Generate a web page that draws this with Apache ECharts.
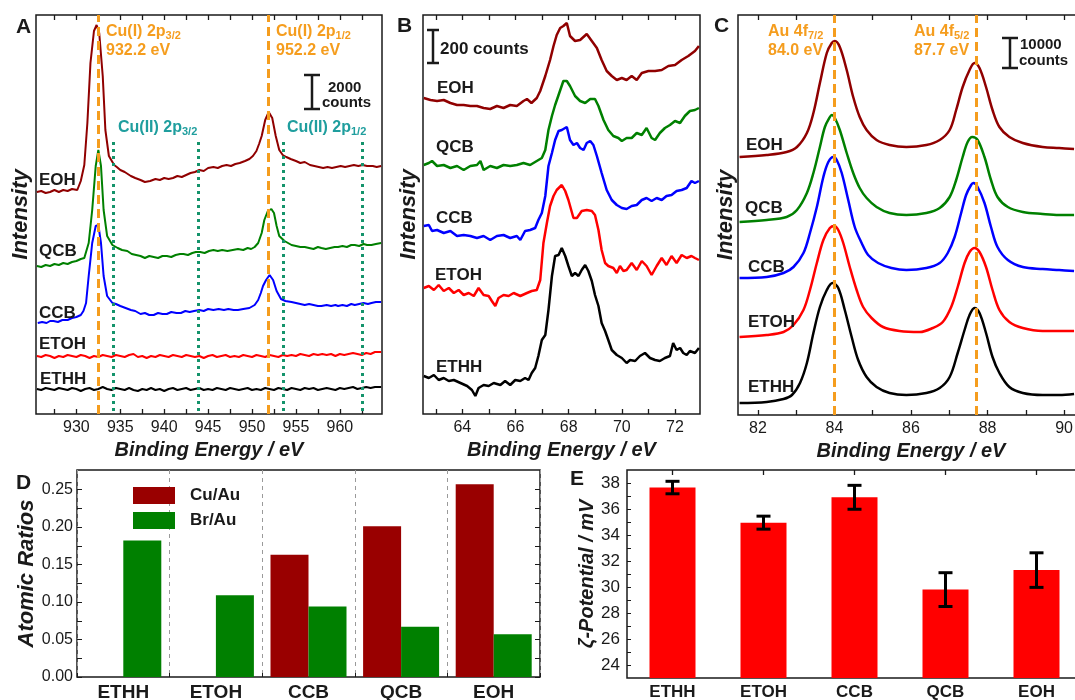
<!DOCTYPE html>
<html>
<head>
<meta charset="utf-8">
<title>XPS spectra, atomic ratios and zeta potential</title>
<script src="https://cdn.jsdelivr.net/npm/echarts@6/dist/echarts.min.js"></script>
<style>
html, body { margin: 0; padding: 0; background: #fff; }
#main { width: 1075px; height: 700px; }
</style>
</head>
<body>
<div id="main"></div>
<script>
// ---- samples / bar data (panels D, E) ----
const samples = ['ETHH', 'ETOH', 'CCB', 'QCB', 'EOH'];
const cuAu = [0, 0, 0.163, 0.201, 0.257];
const brAu = [0.182, 0.109, 0.094, 0.067, 0.057];
const zeta = [37.65, 34.95, 36.9, 29.8, 31.3];
const zetaErr = [0.48, 0.5, 0.92, 1.3, 1.33];

// tick labels
const cuLabels = [930, 935, 940, 945, 950, 955, 960];
const cuTicks = [927.5, 930, 932.5, 935, 937.5, 940, 942.5, 945, 947.5, 950, 952.5, 955, 957.5, 960, 962.5];
const brLabels = [64, 66, 68, 70, 72];
const brTicks = [63, 64, 65, 66, 67, 68, 69, 70, 71, 72];
const auLabels = [82, 84, 86, 88, 90];
const auTicks = [82, 83, 84, 85, 86, 87, 88, 89, 90];
const dLabels = [0, 0.05, 0.10, 0.15, 0.20, 0.25];
const dTicks = [0, 0.025, 0.05, 0.075, 0.10, 0.125, 0.15, 0.175, 0.20, 0.225, 0.25];
const eLabels = [24, 26, 28, 30, 32, 34, 36, 38];
const eTicks = [24, 25, 26, 27, 28, 29, 30, 31, 32, 33, 34, 35, 36, 37, 38];

// reference lines (eV)
const cuIPeaks = [932.5, 951.9];
const cuIIRanges = [934.2, 943.9, 953.5, 962.6];
const auPeaks = [84.0, 87.7];

// ---- A: Cu 2p spectra, intensity in a.u. (stacked) ----
const cuEOH = [[925.5,222],[926,223],[926.5,221],[927,222],[927.5,224],[928,222],[928.5,224],[929,223],[929.5,225],[930.1,224],[930.5,233],[930.9,249],[931.25,291],[931.6,351],[932.0,383],[932.3,389],[932.6,381],[933.0,338],[933.3,284],[933.7,258],[934.3,249],[934.6,247],[935.0,244],[935.5,242],[936.2,238],[936.7,236],[937.3,234],[937.8,232],[938.4,233],[939.0,235],[939.5,234],[940.0,236],[940.5,235],[941.0,236],[941.5,238],[942.0,237],[942.5,239],[943.0,241],[943.5,242],[944.0,244],[944.5,243],[945.0,246],[945.6,247],[946.1,246],[946.6,248],[947.1,249],[947.6,248],[948.1,250],[948.6,251],[949.2,253],[949.7,255],[950.1,258],[950.5,263],[950.8,270],[951.1,278],[951.5,294],[951.9,302],[952.3,296],[952.7,278],[953.1,264],[953.5,259],[953.9,257],[954.4,255],[955.0,253],[955.5,251],[956.0,252],[956.6,249],[957.1,248],[957.6,247],[958.1,246],[958.6,247],[959.1,246],[959.6,247],[960.1,248],[960.6,247],[961.1,248],[961.6,249],[962.1,248],[962.6,249],[963.1,248],[963.75,248],[964.2,247],[964.7,248]];
const cuQCB = [[925.5,148],[926,147],[926.5,149],[927,148],[927.5,150],[928,149],[928.5,151],[929,150],[929.5,152],[930,153],[930.5,155],[930.9,156],[931.4,171],[931.8,204],[932.2,248],[932.5,264],[932.8,248],[933.1,204],[933.5,178],[934.1,169],[934.7,166],[935.2,164],[935.8,163],[936.3,160],[936.8,159],[937.3,158],[937.8,156],[938.3,158],[938.8,157],[939.3,156],[939.8,158],[940.3,158],[940.8,157],[941.3,159],[941.8,160],[942.2,160],[942.7,159],[943.2,161],[943.6,162],[944.1,162],[944.6,161],[945.1,163],[945.6,164],[946.1,163],[946.6,164],[947.2,163],[947.8,164],[948.4,165],[949.0,164],[949.5,166],[949.9,165],[950.3,167],[950.7,171],[951.1,181],[951.4,194],[951.8,203],[952.2,205],[952.5,201],[952.8,188],[953.1,178],[953.7,173],[954.1,171],[954.5,169],[955.0,168],[955.5,167],[956.0,167],[956.5,166],[957.0,165],[957.5,167],[957.9,166],[958.4,165],[958.9,166],[959.4,167],[959.8,167],[960.3,168],[960.8,167],[961.3,169],[961.7,169],[962.2,168],[962.7,170],[963.1,169],[963.6,169],[964.1,170],[964.7,171]];
const cuCCB = [[925.6,91],[926.1,92],[926.6,91],[927.0,93],[927.4,93],[927.9,92],[928.4,94],[929.0,94],[929.5,96],[930.0,97],[930.5,99],[930.8,103],[931.1,111],[931.4,138],[931.8,171],[932.2,188],[932.5,189],[932.8,171],[933.1,138],[933.5,118],[934.1,111],[934.5,110],[935.0,108],[935.6,106],[936.2,104],[936.7,103],[937.3,100],[937.8,101],[938.3,99],[938.8,99],[939.3,101],[939.8,100],[940.3,100],[940.8,102],[941.4,101],[941.9,101],[942.4,103],[942.9,102],[943.4,103],[944.0,104],[944.5,103],[945.0,105],[945.6,104],[946.2,105],[946.8,104],[947.3,105],[947.9,104],[948.4,104],[949.0,105],[949.7,106],[950.3,109],[950.7,114],[951.0,121],[951.25,128],[951.6,134],[952.0,139],[952.4,134],[952.8,123],[953.3,115],[953.8,113],[954.5,112],[955.0,111],[955.5,110],[956.0,109],[956.5,110],[957.0,109],[957.5,108],[957.9,108],[958.5,109],[959.0,108],[959.5,109],[959.8,108],[960.3,109],[960.8,108],[961.3,110],[961.7,109],[962.2,110],[962.7,111],[963.2,110],[963.6,111],[964.1,112],[964.7,112]];
const cuETOH = [[925.5,58],[926,57],[926.5,59],[927,58],[927.5,56],[928,58],[928.5,57],[929,59],[929.5,58],[930,57],[930.5,59],[931,58],[931.5,56],[932,58],[932.5,57],[933,59],[933.5,58],[934,57],[934.5,59],[935,58],[935.5,57],[936,59],[936.5,60],[937,57],[937.5,58],[938,56],[938.5,58],[939,57],[939.5,59],[940,58],[940.5,57],[941,59],[941.5,58],[942,57],[942.5,59],[943,58],[943.5,57],[944,58],[944.5,56],[945,58],[945.5,59],[946,57],[946.5,58],[947,59],[947.5,57],[948,58],[948.5,57],[949,59],[949.5,58],[950,57],[950.5,59],[951,58],[951.5,57],[952,59],[952.5,58],[953,57],[953.5,59],[954,58],[954.5,59],[955,58],[955.5,60],[956,59],[956.5,58],[957,60],[957.5,59],[958,60],[958.5,59],[959,60],[959.5,58],[960,60],[960.5,59],[961,60],[961.5,61],[962,60],[962.5,59],[963,61],[963.5,60],[964,62],[964.7,62]];
const cuETHH = [[925.5,25],[926,24],[926.5,26],[927,25],[927.5,24],[928,26],[928.5,25],[929,24],[929.5,26],[930,25],[930.5,23],[931,25],[931.5,26],[932,24],[932.5,25],[933,27],[933.5,25],[934,24],[934.5,26],[935,25],[935.5,24],[936,26],[936.5,24],[937,23],[937.5,25],[938,24],[938.5,26],[939,24],[939.5,25],[940,23],[940.5,25],[941,26],[941.5,24],[942,25],[942.5,26],[943,24],[943.5,25],[944,26],[944.5,24],[945,25],[945.5,24],[946,26],[946.5,25],[947,24],[947.5,26],[948,25],[948.5,24],[949,25],[949.5,26],[950,24],[950.5,25],[951,24],[951.5,26],[952,25],[952.5,24],[953,26],[953.5,25],[954,24],[954.5,26],[955,25],[955.5,24],[956,26],[956.5,25],[957,26],[957.5,24],[958,25],[958.5,26],[959,25],[959.5,24],[960,26],[960.5,25],[961,26],[961.5,27],[962,25],[962.5,26],[963,27],[963.5,26],[964,27],[964.7,27]];

// ---- B: Br 3d spectra ----
const brEOH = [[62.55,316],[62.8,314],[63.05,313],[63.3,314],[63.55,311],[63.8,309],[64.05,309],[64.3,308],[64.55,308],[64.8,306],[65.05,305],[65.3,308],[65.55,306],[65.8,309],[66.05,308],[66.3,313],[66.43,315],[66.6,311],[66.8,316],[66.93,323],[67.12,338],[67.3,354],[67.43,368],[67.55,379],[67.68,386],[67.8,388],[67.93,391],[68.05,378],[68.24,373],[68.43,374],[68.68,380],[68.87,373],[69.06,366],[69.24,354],[69.43,343],[69.62,338],[69.81,334],[70.0,336],[70.18,334],[70.37,338],[70.56,334],[70.75,341],[71.0,343],[71.25,343],[71.5,344],[71.75,348],[72.0,349],[72.25,354],[72.5,358],[72.75,363],[72.9,368]];
const brQCB = [[62.55,249],[62.74,251],[62.86,253],[63.05,248],[63.3,249],[63.55,246],[63.8,248],[64.05,244],[64.3,248],[64.55,249],[64.68,253],[64.8,244],[65.05,248],[65.3,246],[65.55,249],[65.8,248],[66.05,249],[66.3,251],[66.55,249],[66.8,253],[66.99,256],[67.12,264],[67.24,284],[67.37,298],[67.49,309],[67.62,319],[67.8,333],[67.93,333],[68.05,328],[68.24,318],[68.43,313],[68.62,311],[68.81,315],[68.99,315],[69.12,308],[69.31,294],[69.49,284],[69.68,278],[69.87,276],[70.0,273],[70.18,276],[70.37,276],[70.56,281],[70.75,279],[70.93,286],[71.12,276],[71.25,274],[71.43,281],[71.62,286],[71.81,289],[72.0,293],[72.19,291],[72.37,298],[72.56,303],[72.75,304],[72.9,306]];
const brCCB = [[62.55,188],[62.74,189],[62.86,183],[63.05,184],[63.3,181],[63.55,183],[63.8,178],[64.05,179],[64.3,178],[64.55,176],[64.8,178],[65.05,174],[65.3,178],[65.55,179],[65.8,176],[66.05,178],[66.18,174],[66.36,183],[66.55,184],[66.74,186],[66.86,194],[66.99,201],[67.12,218],[67.24,248],[67.37,261],[67.49,274],[67.62,283],[67.74,284],[67.93,287],[68.05,274],[68.18,269],[68.31,271],[68.43,266],[68.56,264],[68.68,271],[68.81,273],[68.93,269],[69.06,258],[69.24,241],[69.43,224],[69.62,214],[69.81,209],[70.0,206],[70.18,205],[70.37,208],[70.56,209],[70.75,214],[70.93,216],[71.12,213],[71.31,216],[71.5,214],[71.68,218],[71.87,219],[72.06,223],[72.25,224],[72.44,226],[72.62,233],[72.75,231],[72.9,233]];
const brETOH = [[62.55,126],[62.74,128],[62.93,124],[63.11,129],[63.3,123],[63.49,126],[63.68,121],[63.86,124],[64.05,119],[64.24,121],[64.43,118],[64.61,126],[64.8,119],[64.99,118],[65.11,113],[65.24,108],[65.36,116],[65.55,119],[65.74,118],[65.93,121],[66.18,118],[66.43,121],[66.61,123],[66.8,124],[66.93,134],[67.05,171],[67.18,191],[67.3,208],[67.43,218],[67.55,224],[67.74,229],[67.87,223],[67.99,214],[68.05,213],[68.18,196],[68.31,196],[68.49,203],[68.68,204],[68.87,203],[68.99,199],[69.12,184],[69.24,164],[69.37,151],[69.49,148],[69.68,146],[69.81,141],[69.93,148],[70.06,143],[70.18,144],[70.37,151],[70.56,144],[70.75,153],[70.93,148],[71.12,139],[71.31,148],[71.5,156],[71.68,149],[71.87,158],[72.06,151],[72.25,159],[72.44,156],[72.62,158],[72.75,156],[72.9,154]];
const brETHH = [[62.55,38],[62.74,36],[62.93,39],[63.11,34],[63.3,36],[63.49,33],[63.68,34],[63.93,31],[64.18,28],[64.36,24],[64.49,18],[64.61,26],[64.8,29],[64.99,28],[65.18,31],[65.43,29],[65.61,33],[65.8,29],[65.99,34],[66.18,33],[66.36,36],[66.49,34],[66.61,41],[66.74,46],[66.86,58],[66.99,74],[67.12,79],[67.24,104],[67.37,138],[67.49,158],[67.62,159],[67.74,166],[67.87,158],[67.99,148],[68.12,138],[68.24,141],[68.37,138],[68.49,144],[68.62,149],[68.74,143],[68.87,133],[68.99,119],[69.12,108],[69.24,91],[69.37,83],[69.49,74],[69.62,64],[69.81,59],[70.0,56],[70.18,51],[70.31,54],[70.5,53],[70.68,58],[70.87,61],[71.06,56],[71.25,54],[71.43,53],[71.62,56],[71.81,58],[71.93,71],[72.06,64],[72.19,66],[72.31,61],[72.44,59],[72.56,63],[72.75,61],[72.9,66]];

// ---- C: Au 4f spectra ----
const auEOH = [[81.52,258],[82.23,260],[82.75,263],[83.02,268],[83.28,282],[83.45,302],[83.62,332],[83.8,362],[83.93,372],[84.01,374],[84.14,368],[84.32,345],[84.49,318],[84.66,298],[84.84,285],[85.1,275],[85.44,270],[85.88,268],[86.4,270],[86.75,275],[87.01,285],[87.18,305],[87.35,328],[87.53,345],[87.66,352],[87.79,347],[87.96,328],[88.13,305],[88.31,288],[88.57,278],[88.92,272],[89.44,268],[89.87,267],[90.26,266]];
const auQCB = [[81.52,193],[82.23,195],[82.75,198],[83.02,205],[83.28,222],[83.45,242],[83.62,268],[83.75,288],[83.88,298],[83.93,300],[84.01,297],[84.14,285],[84.32,262],[84.49,242],[84.66,227],[84.84,217],[85.1,208],[85.44,202],[85.88,200],[86.4,202],[86.75,207],[87.01,218],[87.18,235],[87.35,258],[87.48,273],[87.6,278],[87.74,275],[87.92,258],[88.09,235],[88.26,218],[88.53,208],[88.92,203],[89.44,201],[89.87,200],[90.26,200]];
const auCCB = [[81.52,137],[82.23,138],[82.67,142],[82.93,148],[83.19,162],[83.36,182],[83.54,208],[83.71,238],[83.84,253],[83.97,258],[84.06,255],[84.19,242],[84.36,215],[84.53,188],[84.71,172],[84.88,160],[85.14,152],[85.49,147],[85.88,145],[86.4,147],[86.75,152],[86.96,162],[87.14,178],[87.31,202],[87.44,220],[87.57,230],[87.63,232],[87.74,228],[87.92,212],[88.09,188],[88.26,168],[88.53,155],[88.92,148],[89.44,146],[89.87,145],[90.26,144]];
const auETOH = [[81.52,78],[82.23,80],[82.67,83],[82.93,90],[83.19,105],[83.36,125],[83.54,152],[83.71,175],[83.88,187],[84.0,189],[84.1,185],[84.23,172],[84.4,148],[84.58,125],[84.75,108],[84.97,97],[85.27,88],[85.7,84],[86.23,83],[86.57,87],[86.83,93],[87.05,108],[87.22,128],[87.4,152],[87.53,163],[87.66,167],[87.79,163],[87.96,148],[88.13,125],[88.31,105],[88.57,93],[88.92,87],[89.44,84],[89.87,84],[90.26,84]];
const auETHH = [[81.52,12],[82.23,13],[82.67,16],[82.89,20],[83.1,32],[83.28,52],[83.45,82],[83.62,108],[83.8,125],[83.95,132],[84.1,127],[84.27,105],[84.45,78],[84.62,55],[84.84,38],[85.1,28],[85.44,22],[85.88,20],[86.4,22],[86.75,27],[87.01,38],[87.22,62],[87.4,85],[87.53,100],[87.66,107],[87.79,102],[87.96,82],[88.13,58],[88.31,42],[88.57,28],[88.92,22],[89.44,20],[89.87,20],[90.26,21]];

const FONT = 'Arial, "Liberation Sans", Helvetica, sans-serif';
const INK = '#1a1a1a';
const ORANGE = '#f59d1e';
const TEAL = '#1f9e9e';
const DOTGREEN = '#14936b';
const colors = { EOH: '#900000', QCB: '#008000', CCB: '#0000ff', ETOH: '#ff0000', ETHH: '#000000' };

let chart = echarts.init(document.getElementById('main'), null, { renderer: 'canvas' });

const nameStyle = (size) => ({ fontSize: size, fontWeight: 'bold', fontStyle: 'italic', color: INK, fontFamily: FONT });

function specX(grid, min, max, labels, ticks, pos) {
    let bottom = pos === 'bottom';
    return {
        type: 'value', gridIndex: grid, position: pos, min: min, max: max,
        axisLine: { show: false },
        axisTick: { show: true, inside: true, length: 5, customValues: ticks, lineStyle: { color: INK, width: 1.3 } },
        axisLabel: { show: bottom, customValues: labels, margin: 6, fontSize: 16, color: INK, fontFamily: FONT },
        splitLine: { show: false },
        name: bottom ? 'Binding Energy / eV' : '',
        nameLocation: 'middle', nameGap: 21,
        nameTextStyle: nameStyle(20)
    };
}
function specY(grid, max, gap) {
    return {
        type: 'value', gridIndex: grid, min: 0, max: max,
        axisLine: { show: false }, axisTick: { show: false }, axisLabel: { show: false }, splitLine: { show: false },
        name: 'Intensity', nameLocation: 'middle', nameGap: gap, nameTextStyle: nameStyle(22)
    };
}
function spec(data, color, xi, yi, width, smooth) {
    return {
        type: 'line', data: data, xAxisIndex: xi, yAxisIndex: yi,
        showSymbol: false, symbol: 'none', smooth: smooth, silent: true, z: 3,
        lineStyle: { color: color, width: width }, itemStyle: { color: color }
    };
}

// text helpers for the annotations
function txt(x, y, text, font, fill) {
    return { type: 'text', x: x, y: y, silent: true, z: 10,
        style: { text: text, font: font, fill: fill || INK, align: 'left', verticalAlign: 'middle' } };
}
function subTxt(x, y, main, sub, fill) {
    return { type: 'text', x: x, y: y, silent: true, z: 10,
        style: { text: '{m|' + main + '}{s|' + sub + '}', align: 'left', verticalAlign: 'middle',
            rich: { m: { font: 'bold 16px ' + FONT, fill: fill }, s: { font: 'bold 11px ' + FONT, fill: fill, padding: [8, 0, 0, 0] } } } };
}
function scaleBar(x, y1, y2, hw) {
    let st = { stroke: INK, lineWidth: 2.5 };
    return { type: 'group', silent: true, children: [
        { type: 'line', shape: { x1: x, y1: y1, x2: x, y2: y2 }, style: st },
        { type: 'line', shape: { x1: x - hw, y1: y1, x2: x + hw, y2: y1 }, style: st },
        { type: 'line', shape: { x1: x - hw, y1: y2, x2: x + hw, y2: y2 }, style: st }
    ] };
}

const gridBase = { show: true, borderColor: INK, borderWidth: 1.5, backgroundColor: 'transparent', containLabel: false, outerBoundsMode: 'none' };
const B16 = 'bold 16px ' + FONT, B17 = 'bold 17px ' + FONT, B15 = 'bold 15px ' + FONT, B20 = 'bold 21px ' + FONT;

let option = {
    animation: false,
    backgroundColor: '#fff',
    textStyle: { fontFamily: FONT },
    grid: [
        { left: 36, top: 15, width: 346, height: 399 },
        { left: 423, top: 15, width: 277, height: 399 },
        { left: 738, top: 15, width: 346, height: 400 },
        { left: 77, top: 470, width: 463, height: 207 },
        { left: 627, top: 470, width: 455, height: 208 }
    ].map(g => Object.assign({}, gridBase, g)),
    legend: {
        data: ['Cu/Au', 'Br/Au'], orient: 'vertical', left: 128, top: 482,
        itemWidth: 42, itemHeight: 17, itemGap: 8, icon: 'rect', selectedMode: false,
        textStyle: { fontSize: 17, fontWeight: 'bold', color: INK, fontFamily: FONT, padding: [0, 0, 0, 10] }
    },
    xAxis: [
        specX(0, 925.4, 964.8, cuLabels, cuTicks, 'bottom'),
        specX(0, 925.4, 964.8, cuLabels, cuTicks, 'top'),
        specX(1, 62.52, 72.94, brLabels, brTicks, 'bottom'),
        specX(1, 62.52, 72.94, brLabels, brTicks, 'top'),
        specX(2, 81.48, 90.52, auLabels, auTicks, 'bottom'),
        specX(2, 81.48, 90.52, auLabels, auTicks, 'top'),
        {   // D
            type: 'category', gridIndex: 3, data: samples, position: 'bottom',
            axisLine: { show: false },
            axisTick: { show: true, inside: true, length: 4, lineStyle: { color: INK } },
            axisLabel: { margin: 6, fontSize: 19, fontWeight: 'bold', color: INK, fontFamily: FONT },
            splitLine: { show: true, lineStyle: { color: '#9a9a9a', width: 1, type: [4, 4] } }
        },
        {   // E bottom
            type: 'category', gridIndex: 4, data: samples, position: 'bottom',
            axisLine: { show: false },
            axisTick: { show: true, inside: true, length: 5, alignWithLabel: true, lineStyle: { color: INK, width: 1.3 } },
            axisLabel: { margin: 6, fontSize: 17, fontWeight: 'bold', color: INK, fontFamily: FONT },
            splitLine: { show: false }
        },
        {   // E top
            type: 'category', gridIndex: 4, data: samples, position: 'top',
            axisLine: { show: false },
            axisTick: { show: true, inside: true, length: 5, alignWithLabel: true, lineStyle: { color: INK, width: 1.3 } },
            axisLabel: { show: false }, splitLine: { show: false }
        }
    ],
    yAxis: [
        specY(0, 399, 4),
        specY(1, 399, 3),
        specY(2, 400, 1),
        {   // D left
            type: 'value', gridIndex: 3, min: 0, max: 0.276,
            axisLine: { show: false },
            axisTick: { show: true, inside: true, length: 5, customValues: dTicks, lineStyle: { color: INK } },
            axisLabel: { customValues: dLabels, formatter: v => v.toFixed(2), margin: 4, fontSize: 16, color: INK, fontFamily: FONT },
            splitLine: { show: false },
            name: 'Atomic Ratios', nameLocation: 'middle', nameGap: 32, nameTextStyle: nameStyle(22)
        },
        {   // D right
            type: 'value', gridIndex: 3, min: 0, max: 0.276, position: 'right',
            axisLine: { show: false },
            axisTick: { show: true, inside: true, length: 5, customValues: dTicks, lineStyle: { color: INK } },
            axisLabel: { show: false }, splitLine: { show: false }
        },
        {   // E
            type: 'value', gridIndex: 4, min: 23, max: 39,
            axisLine: { show: false },
            axisTick: { show: true, inside: true, length: 4, customValues: eTicks, lineStyle: { color: INK } },
            axisLabel: { customValues: eLabels, margin: 7, fontSize: 17, color: INK, fontFamily: FONT },
            splitLine: { show: false },
            name: '\u03B6-Potential / mV', nameLocation: 'middle', nameGap: 23, nameTextStyle: nameStyle(20)
        }
    ],
    series: [
        spec(cuEOH, colors.EOH, 0, 0, 2, false),
        spec(cuQCB, colors.QCB, 0, 0, 2, false),
        spec(cuCCB, colors.CCB, 0, 0, 2, false),
        spec(cuETOH, colors.ETOH, 0, 0, 2, false),
        spec(cuETHH, colors.ETHH, 0, 0, 2, false),
        {   // Cu reference lines
            type: 'line', xAxisIndex: 0, yAxisIndex: 0, data: [], silent: true, z: 6,
            markLine: {
                symbol: 'none', silent: true, animation: false, label: { show: false },
                data: cuIPeaks.map(v => ({ xAxis: v, lineStyle: { color: ORANGE, width: 3, type: [9, 5] } }))
                    .concat(cuIIRanges.map(v => [
                        { coord: [v, 272], lineStyle: { color: DOTGREEN, width: 3, type: [3, 4] } },
                        { coord: [v, 0] }
                    ]))
            }
        },
        spec(brEOH, colors.EOH, 2, 1, 2.5, false),
        spec(brQCB, colors.QCB, 2, 1, 2.5, false),
        spec(brCCB, colors.CCB, 2, 1, 2.5, false),
        spec(brETOH, colors.ETOH, 2, 1, 2.5, false),
        spec(brETHH, colors.ETHH, 2, 1, 2.5, false),
        spec(auEOH, colors.EOH, 4, 2, 2.5, 0.35),
        spec(auQCB, colors.QCB, 4, 2, 2.5, 0.35),
        spec(auCCB, colors.CCB, 4, 2, 2.5, 0.35),
        spec(auETOH, colors.ETOH, 4, 2, 2.5, 0.35),
        spec(auETHH, colors.ETHH, 4, 2, 2.5, 0.35),
        {   // Au reference lines
            type: 'line', xAxisIndex: 4, yAxisIndex: 2, data: [], silent: true, z: 6,
            markLine: {
                symbol: 'none', silent: true, animation: false, label: { show: false },
                lineStyle: { color: ORANGE, width: 3, type: [9, 5] },
                data: auPeaks.map(v => ({ xAxis: v }))
            }
        },
        {
            type: 'bar', name: 'Cu/Au', xAxisIndex: 6, yAxisIndex: 3, data: cuAu,
            barWidth: 38, barGap: '0%', itemStyle: { color: '#990000' }, silent: true
        },
        {
            type: 'bar', name: 'Br/Au', xAxisIndex: 6, yAxisIndex: 3, data: brAu,
            barWidth: 38, barGap: '0%', itemStyle: { color: '#008000' }, silent: true
        },
        {
            type: 'bar', xAxisIndex: 7, yAxisIndex: 5, data: zeta,
            barWidth: 46, itemStyle: { color: '#ff0000' }, silent: true
        },
        {   // error bars
            type: 'custom', xAxisIndex: 7, yAxisIndex: 5, silent: true, z: 5,
            data: samples.map((s, i) => [i, zeta[i], zetaErr[i]]),
            encode: { x: 0, y: 1 },
            renderItem: function (params, api) {
                let i = api.value(0), v = api.value(1), e = api.value(2);
                let hi = api.coord([i, v + e]), lo = api.coord([i, v - e]);
                let hw = 7, st = { stroke: '#000', lineWidth: 3 };
                return { type: 'group', children: [
                    { type: 'line', shape: { x1: hi[0], y1: hi[1], x2: lo[0], y2: lo[1] }, style: st },
                    { type: 'line', shape: { x1: hi[0] - hw, y1: hi[1], x2: hi[0] + hw, y2: hi[1] }, style: st },
                    { type: 'line', shape: { x1: lo[0] - hw, y1: lo[1], x2: lo[0] + hw, y2: lo[1] }, style: st }
                ] };
            }
        }
    ],
    graphic: [
        // panel letters
        txt(16, 27, 'A', B20), txt(397, 26, 'B', B20), txt(714, 26, 'C', B20),
        txt(16, 483, 'D', B20), txt(570, 479, 'E', B20),
        // panel A annotations
        subTxt(106, 32, 'Cu(I) 2p', '3/2', ORANGE), txt(106, 51, '932.2 eV', B16, ORANGE),
        subTxt(276, 32, 'Cu(I) 2p', '1/2', ORANGE), txt(276, 51, '952.2 eV', B16, ORANGE),
        subTxt(118, 128, 'Cu(II) 2p', '3/2', TEAL), subTxt(287, 128, 'Cu(II) 2p', '1/2', TEAL),
        scaleBar(312, 75, 109, 8), txt(328, 88, '2000', B15), txt(322, 103, 'counts', B15),
        txt(39, 180, 'EOH', B17), txt(39, 251, 'QCB', B17), txt(39, 313, 'CCB', B17),
        txt(39, 344, 'ETOH', B17), txt(40, 379, 'ETHH', B17),
        // panel B annotations
        scaleBar(433, 30, 63, 6), txt(440, 49, '200 counts', B17),
        txt(437, 88, 'EOH', B17), txt(436, 147, 'QCB', B17), txt(436, 218, 'CCB', B17),
        txt(435, 275, 'ETOH', B17), txt(436, 367, 'ETHH', B17),
        // panel C annotations
        subTxt(768, 32, 'Au 4f', '7/2', ORANGE), txt(768, 51, '84.0 eV', B16, ORANGE),
        subTxt(914, 32, 'Au 4f', '5/2', ORANGE), txt(914, 51, '87.7 eV', B16, ORANGE),
        scaleBar(1010, 38, 68, 8), txt(1020, 45, '10000', B15), txt(1019, 61, 'counts', B15),
        txt(746, 145, 'EOH', B17), txt(745, 208, 'QCB', B17), txt(748, 267, 'CCB', B17),
        txt(748, 322, 'ETOH', B17), txt(748, 387, 'ETHH', B17)
    ]
};

chart.setOption(option);
</script>
</body>
</html>
